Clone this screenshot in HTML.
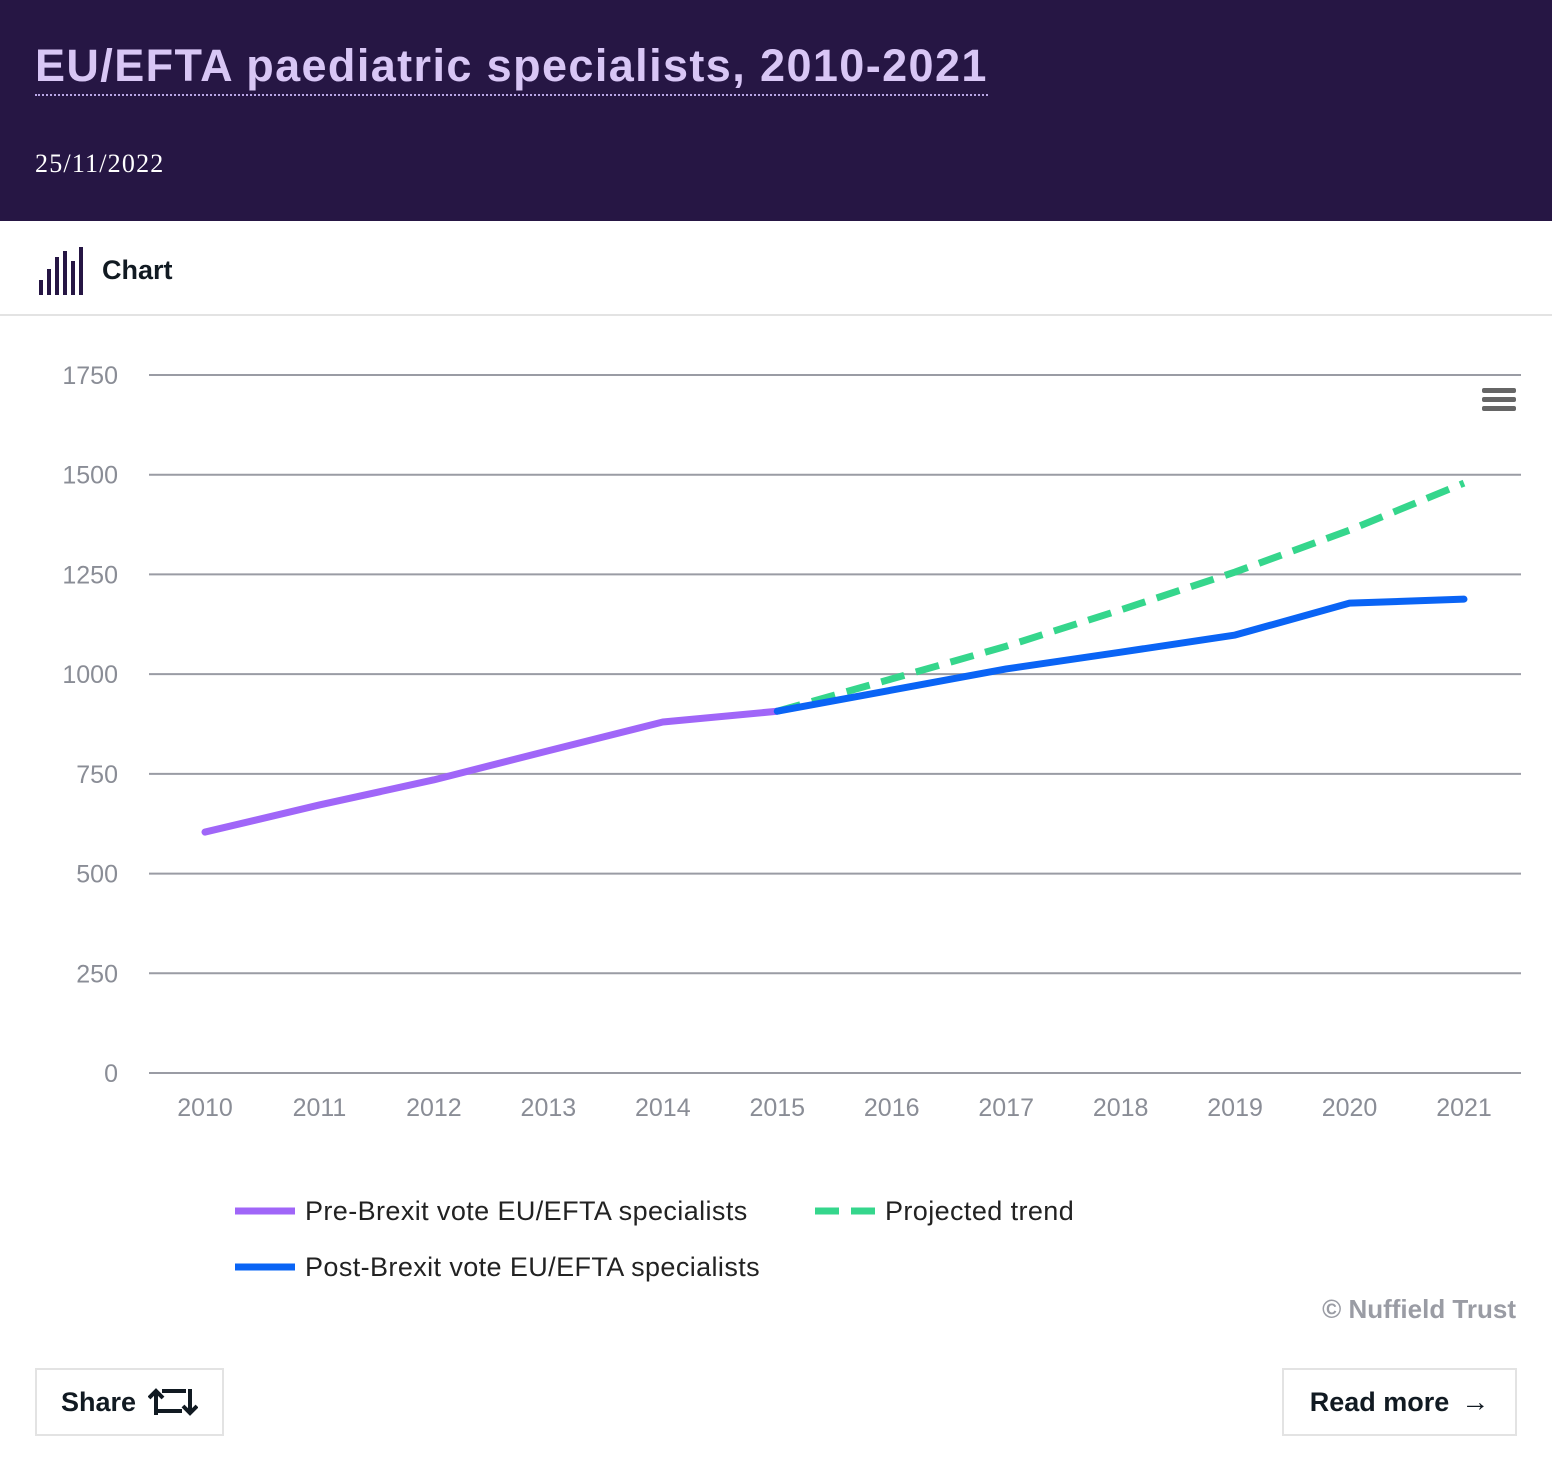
<!DOCTYPE html>
<html><head><meta charset="utf-8"><style>
body{margin:0;width:1552px;height:1470px;background:#fff;font-family:"Liberation Sans",sans-serif;position:relative;overflow:hidden}
.hdr{position:absolute;left:0;top:0;width:1552px;height:221px;background:#261644}
.title{position:absolute;left:35px;top:40px;font-size:45px;font-weight:bold;color:#d8c6f5;border-bottom:2px dotted #b9a6e6;padding-bottom:2px;letter-spacing:1.4px}
.date{position:absolute;left:35px;top:149px;font-family:"Liberation Serif",serif;font-size:26px;color:#fff;letter-spacing:1.2px}
.tab{position:absolute;left:0;top:222px;width:1552px;height:92px;border-bottom:2px solid #e3e3e3}
.btn{position:absolute;border:2px solid #e3e3e3;box-sizing:border-box;font-weight:bold;font-size:27px;color:#111a22;display:flex;align-items:center;justify-content:center;gap:12px}
</style></head><body>
<div class="hdr">
<div class="title">EU/EFTA paediatric specialists, 2010-2021</div>
<div class="date">25/11/2022</div>
</div>
<div class="tab">
<svg style="position:absolute;left:38px;top:25px" width="48" height="50">
<g fill="#261644"><rect x="1" y="33" width="4" height="15"/><rect x="9" y="22" width="4" height="26"/><rect x="17" y="10" width="4" height="38"/><rect x="25" y="4" width="4" height="44"/><rect x="33" y="14" width="4" height="34"/><rect x="41" y="-2" width="4" height="50"/></g></svg>
<div style="position:absolute;left:102px;top:33px;font-size:27px;font-weight:bold;color:#111a22">Chart</div>
</div>
<svg id="c" width="1552" height="1470" style="position:absolute;left:0;top:0"></svg>
<div class="btn" style="left:35px;top:1368px;width:189px;height:68px">Share <svg width="50" height="30" viewBox="0 0 50 30"><g fill="none" stroke="#111a22" stroke-width="4"><path d="M8 28V4M1 11l7-7 7 7M8 24h26M42 2v24M35 19l7 7 7-7M14 4h24"/></g></svg></div>
<div class="btn" style="left:1282px;top:1368px;width:235px;height:68px">Read more <span style="font-size:28px">→</span></div>
<script>
const years=[2010,2011,2012,2013,2014,2015,2016,2017,2018,2019,2020,2021];
const yTicks=[0,250,500,750,1000,1250,1500,1750];
const preBrexit=[604,672,735,808,880,907];
const postBrexit=[907,960,1013,1055,1098,1178,1188];
const projected=[907,988,1070,1161,1256,1361,1479];
const NS='http://www.w3.org/2000/svg';
const svg=document.getElementById('c');
const X=i=>205+i*(1464-205)/11;
const Y=v=>1073-v*(1073-375)/1750;
function mk(t,a){const e=document.createElementNS(NS,t);for(const k in a)e.setAttribute(k,a[k]);svg.appendChild(e);return e;}
yTicks.forEach(v=>{
 const l=mk('line',{x1:149,x2:1521,y1:Y(v),y2:Y(v),stroke:'#9a9ca4','stroke-width':2});
 
 
 const t=mk('text',{x:118,y:Y(v)+9,'text-anchor':'end','font-size':25,fill:'#8a8d96','font-family':'Liberation Sans,sans-serif'});
 t.textContent=v;
 
 
});
years.forEach((y,i)=>{
 const t=mk('text',{x:X(i),y:1116,'text-anchor':'middle','font-size':25,fill:'#8a8d96','font-family':'Liberation Sans,sans-serif'});
 t.textContent=y;
 
 
});
function line(vals,off,col,dash,name){
 const d=vals.map((v,i)=>(i?'L':'M')+X(i+off)+' '+Y(v)).join('');
 const p=mk('path',{d:d,fill:'none',stroke:col,'stroke-width':7,'stroke-linecap':dash?'butt':'round','stroke-linejoin':'round'});
 if(dash)p.setAttribute('stroke-dasharray','24 12');
 
 
}
line(projected,5,'#35d68c',true,'projected-trend-line');
line(preBrexit,0,'#a066f8',false,'pre-brexit-line');
line(postBrexit,5,'#0a64f5',false,'post-brexit-line');
[390,399,408].forEach(y=>{const r=mk('rect',{x:1482,y:y-2,width:34,height:5,rx:2,fill:'#666'});
 
 });
const leg=[[235,1211,'#a066f8',false,'Pre-Brexit vote EU/EFTA specialists'],[815,1211,'#35d68c',true,'Projected trend'],[235,1267,'#0a64f5',false,'Post-Brexit vote EU/EFTA specialists']];
leg.forEach(a=>{
 const l=mk('line',{x1:a[0],x2:a[0]+60,y1:a[1],y2:a[1],stroke:a[2],'stroke-width':7});
 if(a[3])l.setAttribute('stroke-dasharray','24 12');
 
 
 const t=mk('text',{x:a[0]+70,y:a[1]+9,'font-size':27,fill:'#222','font-family':'Liberation Sans,sans-serif','letter-spacing':0.4});
 t.textContent=a[4];
 
 
});
const cr=mk('text',{x:1516,y:1318,'text-anchor':'end','font-size':26,'font-weight':'bold',fill:'#9a9ca4','font-family':'Liberation Sans,sans-serif'});
cr.textContent='© Nuffield Trust';


</script>
</body></html>
